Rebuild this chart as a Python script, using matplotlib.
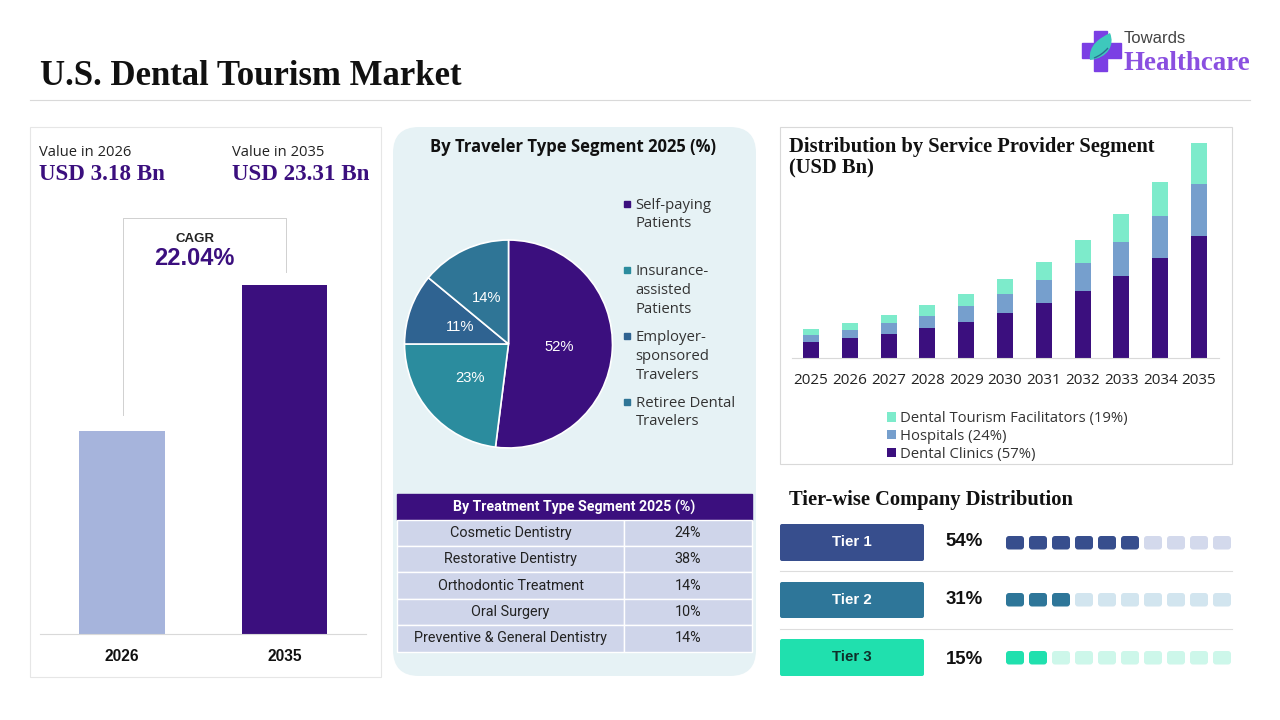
import matplotlib
matplotlib.use('Agg')
import matplotlib.pyplot as plt
from matplotlib.patches import FancyBboxPatch, Rectangle, Polygon, PathPatch
from matplotlib.path import Path

W, H = 1280, 720

# left panel
value_years = ['2026', '2035']
value_labels = ['USD 3.18 Bn', 'USD 23.31 Bn']
value_bar_heights = [203, 349]   # drawn heights, bars are not to scale in the original
value_bar_colors = ['#A6B4DC', '#3B0F7E']

# pie
pie_labels = ['Self-paying\nPatients', 'Insurance-\nassisted\nPatients',
              'Employer-\nsponsored\nTravelers', 'Retiree Dental\nTravelers']
pie_values = [52, 23, 11, 14]
pie_colors = ['#3B0F7E', '#2B8C9E', '#2F6391', '#2F7596']

# table
treatments = ['Cosmetic Dentistry', 'Restorative Dentistry', 'Orthodontic Treatment',
              'Oral Surgery', 'Preventive & General Dentistry']
treatment_share = [24, 38, 14, 10, 14]

# stacked bars
years = ['2025', '2026', '2027', '2028', '2029', '2030', '2031', '2032', '2033', '2034', '2035']
clinics = [1.77, 2.20, 2.64, 3.29, 3.94, 4.91, 5.99, 7.29, 8.92, 10.87, 13.25]
hospitals = [0.76, 0.87, 1.19, 1.30, 1.73, 2.06, 2.49, 3.03, 3.68, 4.55, 5.63]
facilitators = [0.65, 0.76, 0.87, 1.19, 1.30, 1.62, 1.95, 2.49, 3.03, 3.68, 4.44]

# tiers
tiers = ['Tier 1', 'Tier 2', 'Tier 3']
tier_pct = [54, 31, 15]
tier_filled = [6, 3, 2]
tier_colors = ['#374E8D', '#2E7699', '#20E0AE']
tier_light = ['#D3D9EC', '#D2E5EF', '#CDF7EA']

SANS = 'Open Sans'
NARROW = 'Roboto'
ARIAL = 'Liberation Sans'
SERIF = 'Liberation Serif'
PURPLE = '#3B0F7E'


def px_axes(x0, y0, x1, y1):
    # axes placed by pixel box, y measured from the top
    return fig.add_axes([x0 / W, 1 - y1 / H, (x1 - x0) / W, (y1 - y0) / H])


def rbox(x0, y0, x1, y1, r, **kw):
    bg.add_patch(FancyBboxPatch((x0 + r, y0 + r), x1 - x0 - 2 * r, y1 - y0 - 2 * r,
                                boxstyle='round,pad=%g,rounding_size=%g' % (r, r), **kw))


fig = plt.figure(figsize=(12.8, 7.2), dpi=100)
bg = fig.add_axes([0, 0, 1, 1])
bg.set_xlim(0, W)
bg.set_ylim(H, 0)
bg.axis('off')

# header
bg.text(39.5, 76.5, 'U.S. Dental Tourism Market', family=SERIF, weight='bold', size=25,
        color='#111111', va='center')
bg.plot([30, 1250], [99.5, 99.5], color='#D9D9D9', lw=0.8)

# logo
bg.add_patch(Polygon([(1094, 31), (1107, 31), (1107, 43), (1121, 43), (1121, 58), (1107, 58),
                      (1107, 71), (1094, 71), (1094, 58), (1082, 58), (1082, 43), (1094, 43)],
                     color='#7B3FE4'))
leaf = Path([(1090, 60), (1088, 45), (1100, 38), (1110, 33), (1115, 45), (1108, 58), (1090, 60)],
            [Path.MOVETO, Path.CURVE4, Path.CURVE4, Path.CURVE4, Path.CURVE4, Path.CURVE4, Path.CURVE4])
bg.add_patch(PathPatch(leaf, facecolor='#3EC8BC', edgecolor='none'))
vein = Path([(1094, 58), (1102, 55), (1108, 48)], [Path.MOVETO, Path.CURVE3, Path.CURVE3])
bg.add_patch(PathPatch(vein, facecolor='none', edgecolor='#2A6F8F', lw=1))
bg.text(1124, 38.5, 'Towards', family=ARIAL, size=12, color='#444444', va='center')
bg.text(1123.5, 63.5, 'Healthcare', family=SERIF, weight='bold', size=19.4, color='#8A4FE0', va='center')

# panels
bg.add_patch(Rectangle((30, 127), 351, 550, fc='white', ec='#E6E6E6', lw=0.8))
rbox(393, 127, 756, 676, 26, fc='#E6F2F5', ec='none')
bg.add_patch(Rectangle((780, 127), 452, 337, fc='white', ec='#D9D9D9', lw=0.8))

# left panel text
bg.text(39, 152.5, 'Value in ' + value_years[0], family=SANS, size=10.6, color='#222222', va='center')
bg.text(232, 152.5, 'Value in ' + value_years[1], family=SANS, size=10.6, color='#222222', va='center')
bg.text(39, 174.5, value_labels[0], family=SERIF, weight='bold', size=16.6, color=PURPLE, va='center')
bg.text(232, 174.5, value_labels[1], family=SERIF, weight='bold', size=16.6, color=PURPLE, va='center')

# CAGR bracket
bg.plot([122.5, 122.5, 285.5, 285.5], [415, 217.5, 217.5, 272], color='#D0D0D0', lw=0.7)
bg.text(194.5, 239.5, 'CAGR', family=ARIAL, weight='bold', size=9.5, color='#222222', ha='center', va='center')
bg.text(194.5, 258.5, '22.04%', family=ARIAL, weight='bold', size=17, color=PURPLE, ha='center', va='center')

# left bars
ax1 = px_axes(40, 200, 366, 634)
ax1.patch.set_alpha(0)
ax1.bar([0, 1], value_bar_heights, width=0.525, color=value_bar_colors)
ax1.set_xlim(-0.503, 1.5)
ax1.set_ylim(0, 434)
ax1.set_xticks([0, 1], value_years, family=ARIAL, weight='bold', fontsize=11.2, color='#111111')
ax1.tick_params(axis='x', length=0, pad=10.5)
ax1.set_yticks([])
for s in ['top', 'left', 'right']:
    ax1.spines[s].set_visible(False)
ax1.spines['bottom'].set_color('#D9D9D9')
ax1.spines['bottom'].set_linewidth(0.8)

# pie
bg.text(573.5, 147.5, 'By Traveler Type Segment 2025 (%)', family=SANS, weight='bold', size=12,
        color='#111111', ha='center', va='center')
ax2 = px_axes(404, 239.5, 613, 448.5)
ax2.pie(pie_values, colors=pie_colors, startangle=90, counterclock=False, radius=1,
        wedgeprops=dict(edgecolor='white', linewidth=1.2),
        autopct='%d%%', pctdistance=0.49,
        textprops=dict(color='white', family=ARIAL, size=10.6))
ax2.set_xlim(-1.005, 1.005)
ax2.set_ylim(-1.005, 1.005)

legend_y = [214.5, 290.5, 356.5, 412.5]
for lab, c, y in zip(pie_labels, pie_colors, legend_y):
    n = lab.count('\n') + 1
    first = y - 1 - (n - 1) * 9.7
    bg.add_patch(Rectangle((624, first - 3), 6, 6, color=c))
    bg.text(635.5, y, lab, family=SANS, size=10.7, color='#333333', va='center', linespacing=1.34)

# table
tx0, tx1, txm = 397, 752, 624
hdr0, hdr1 = 494, 519.5
row_h = (651.5 - hdr1) / len(treatments)
bg.add_patch(Rectangle((tx0, hdr0), tx1 - tx0, hdr1 - hdr0, color=PURPLE))
bg.text((tx0 + tx1) / 2 - 0.5, (hdr0 + hdr1) / 2 + 0.5, 'By Treatment Type Segment 2025 (%)', family=NARROW,
        weight='bold', size=10.2, color='white', ha='center', va='center')
for i, (name, val) in enumerate(zip(treatments, treatment_share)):
    y = hdr1 + i * row_h
    bg.add_patch(Rectangle((tx0, y), txm - tx0, row_h, fc='#CFD5EA', ec='white', lw=1))
    bg.add_patch(Rectangle((txm, y), tx1 - txm, row_h, fc='#CFD5EA', ec='white', lw=1))
    bg.text((tx0 + txm) / 2, y + row_h / 2, name, family=NARROW, size=10.4, color='#222222',
            ha='center', va='center')
    bg.text((txm + tx1) / 2, y + row_h / 2, '%d%%' % val, family=NARROW, size=10.4, color='#222222',
            ha='center', va='center')

# stacked bars
bg.text(789, 157.5, 'Distribution by Service Provider Segment\n(USD Bn)', family=SERIF, weight='bold',
        size=14.8, color='#111111', va='center', linespacing=1.1)
ax3 = px_axes(792, 143, 1219, 358)
ax3.patch.set_alpha(0)
xs = list(range(len(years)))
bottom2 = clinics
bottom3 = [a + b for a, b in zip(clinics, hospitals)]
b1 = ax3.bar(xs, clinics, width=0.41, color='#3B0F7E', label='Dental Clinics (57%)')
b2 = ax3.bar(xs, hospitals, width=0.41, bottom=bottom2, color='#769FCD', label='Hospitals (24%)')
b3 = ax3.bar(xs, facilitators, width=0.41, bottom=bottom3, color='#7DEBCB', label='Dental Tourism Facilitators (19%)')
ax3.set_xlim(-0.49, 10.515)
ax3.set_ylim(0, 23.31)
ax3.set_xticks(xs, years, family=SANS, fontsize=11, color='#222222')
ax3.tick_params(axis='x', length=0, pad=10.7)
ax3.set_yticks([])
for s in ['top', 'left', 'right']:
    ax3.spines[s].set_visible(False)
ax3.spines['bottom'].set_color('#D9D9D9')
ax3.spines['bottom'].set_linewidth(0.8)
fig.legend(handles=[b3, b2, b1], loc='center left', bbox_to_anchor=(887 / W, 1 - 436.5 / H), frameon=False,
           prop=dict(family=SANS, size=10.7), labelcolor='#333333', handlelength=0.6, handleheight=0.6,
           handletextpad=0.27, labelspacing=0.18, borderpad=0, borderaxespad=0)

# tiers
bg.text(789, 500, 'Tier-wise Company Distribution', family=SERIF, weight='bold', size=14.8,
        color='#111111', va='center')
btn_y = [(524, 561), (582, 618), (639, 676)]
pct_y = [542, 599.5, 660]
sq_y = [536, 593, 651]
for i, t in enumerate(tiers):
    y0, y1 = btn_y[i]
    rbox(780, y0, 924, y1, 2, fc=tier_colors[i], ec='none')
    bg.text(852, (y0 + y1) / 2 - 0.5, t, family=ARIAL, weight='bold', size=10.8,
            color='white' if i < 2 else '#0F2F2A', ha='center', va='center')
    bg.text(964.5, pct_y[i], '%d%%' % tier_pct[i], family=ARIAL, weight='bold', size=13.4,
            color='#111111', ha='center', va='center')
    for k in range(10):
        rbox(1006 + k * 23, sq_y[i], 1024 + k * 23, sq_y[i] + 13.5, 3,
             fc=tier_colors[i] if k < tier_filled[i] else tier_light[i], ec='none')
bg.plot([780, 1232], [571, 571], color='#DDDDDD', lw=0.8)
bg.plot([780, 1232], [629, 629], color='#DDDDDD', lw=0.8)

fig.savefig('out.png', dpi=100)
